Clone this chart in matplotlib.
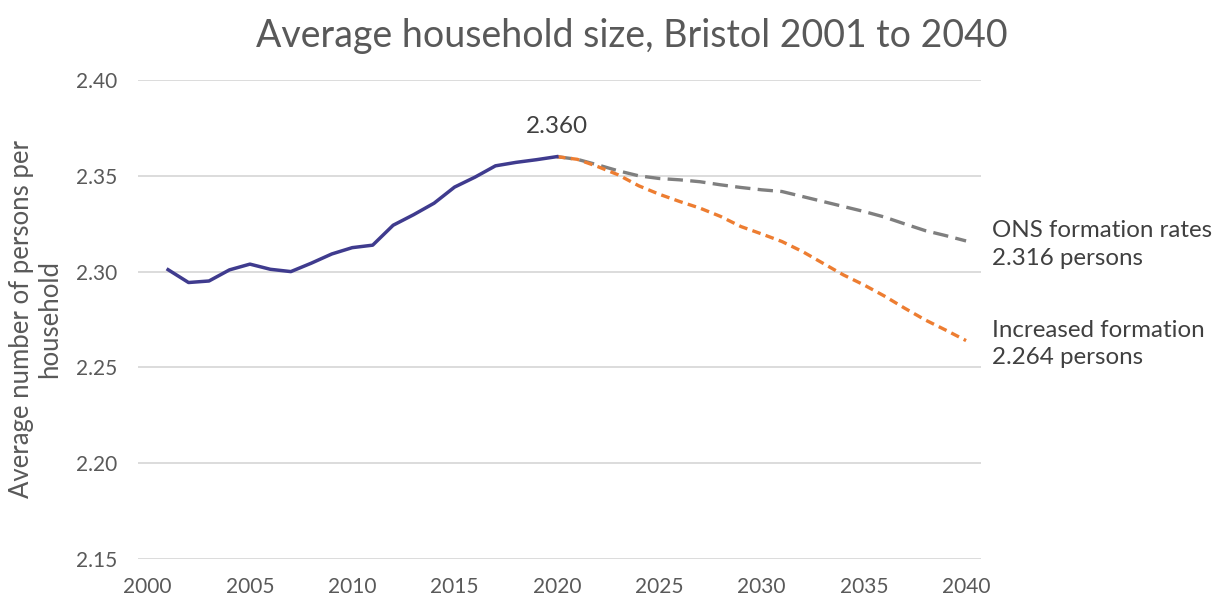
import matplotlib
matplotlib.use("Agg")
import matplotlib.pyplot as plt

plt.rcParams['font.family'] = ['Lato', 'DejaVu Sans']

# ---- data ----
hist_years = list(range(2001, 2021))
hist_values = [2.301, 2.2943, 2.2951, 2.3009, 2.3039, 2.3012, 2.3000, 2.3044, 2.3092, 2.3125,
               2.3138, 2.3242, 2.3297, 2.3357, 2.3441, 2.3493, 2.3552, 2.3570, 2.3584, 2.3600]

proj_years = list(range(2020, 2041))
ons_values = [2.3600, 2.3586, 2.3557, 2.3526, 2.3500, 2.3486, 2.3479, 2.3469, 2.3453, 2.3439,
              2.3427, 2.3418, 2.3392, 2.3366, 2.3340, 2.3314, 2.3285, 2.3249, 2.3214, 2.3188, 2.3160]
inc_values = [2.3600, 2.3586, 2.3548, 2.3505, 2.3448, 2.3404, 2.3366, 2.3331, 2.3288, 2.3235,
              2.3197, 2.3157, 2.3105, 2.3044, 2.2983, 2.2931, 2.2873, 2.2809, 2.2748, 2.2695, 2.2640]

x_ticks = [2000, 2005, 2010, 2015, 2020, 2025, 2030, 2035, 2040]
y_ticks = [2.15, 2.20, 2.25, 2.30, 2.35, 2.40]

title = "Average household size, Bristol 2001 to 2040"
ylabel = "Average number of persons per\nhousehold"
peak_label = "2.360"
ons_label = "ONS formation rates\n2.316 persons"
inc_label = "Increased formation\n2.264 persons"

TXT = '#595959'
W, H = 1219, 597
fig = plt.figure(figsize=(W / 100, H / 100), dpi=100)
ax = fig.add_axes([138 / W, 1 - 559 / H, (981 - 138) / W, (559 - 80) / H])

ax.plot(proj_years, ons_values, color='#7f7f7f', lw=2.4, dashes=(4.6, 2.2),
        dash_capstyle='butt', zorder=3)
ax.plot(proj_years, inc_values, color='#ed7d31', lw=2.4, dashes=(2.6, 1.6),
        dash_capstyle='butt', zorder=4)
ax.plot(hist_years, hist_values, color='#3f3b8e', lw=2.5, zorder=5,
        solid_joinstyle='round')

ax.set_xlim(1999.53, 2040.73)
ax.set_ylim(2.15, 2.40)
ax.set_xticks(x_ticks)
ax.set_yticks(y_ticks)
ax.set_yticklabels([f"{v:.2f}" for v in y_ticks])
ax.grid(axis='y', color='#d9d9d9', lw=1.3)
ax.grid(axis='x', visible=False)
ax.set_axisbelow(True)
for s in ax.spines.values():
    s.set_visible(False)
ax.tick_params(axis='both', length=0, labelsize=15, colors=TXT)
ax.tick_params(axis='x', pad=13)
ax.tick_params(axis='y', pad=15)

ax.set_ylabel(ylabel, fontsize=18.5, color=TXT, labelpad=10, linespacing=1.15)

ax.annotate(peak_label, xy=(2020, hist_values[-1]), xytext=(0, 21.5), textcoords='offset points',
            ha='center', va='center', fontsize=17.5, color='#404040')

ax.annotate(ons_label, xy=(2040, ons_values[-1]), xytext=(19, -2.5), textcoords='offset points',
            ha='left', va='center', fontsize=17.4, color='#404040', linespacing=1.38,
            annotation_clip=False)
ax.annotate(inc_label, xy=(2040, inc_values[-1]), xytext=(19, -2.5), textcoords='offset points',
            ha='left', va='center', fontsize=17.4, color='#404040', linespacing=1.38,
            annotation_clip=False)

fig.text(632 / W, 1 - 36 / H, title, ha='center', va='center', fontsize=27, color=TXT)

fig.savefig('out.png', dpi=100)
